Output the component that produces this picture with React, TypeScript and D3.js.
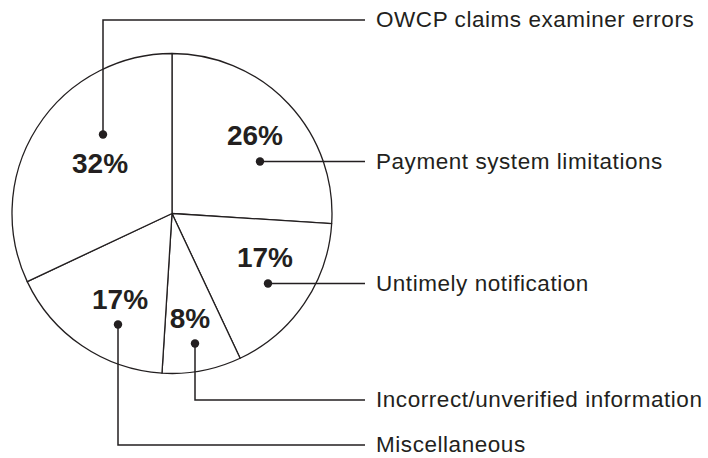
import React from 'react';
import * as d3 from 'd3';

// slices, clockwise from 12 o'clock
const categories = [
  'Payment system limitations',
  'Untimely notification',
  'Incorrect/unverified information',
  'Miscellaneous',
  'OWCP claims examiner errors',
];
const shares = [26, 17, 8, 17, 32];
const pctLabels = ['26%', '17%', '8%', '17%', '32%'];

// annotation placement (relative to pie centre): percent text, dot, and leader elbow
const annot = [
  { tx: 83, ty: -69, dx: 88, dy: -52, elbowY: null },
  { tx: 93, ty: 53, dx: 96, dy: 70, elbowY: null },
  { tx: 18, ty: 114, dx: 23, dy: 130, elbowY: 400 },
  { tx: -52, ty: 95, dx: -54, dy: 111, elbowY: 445 },
  { tx: -72, ty: -41, dx: -69, dy: -79, elbowY: 20 },
];

const W = 708;
const H = 458;
const cx = 172;
const cy = 213.5;
const R = 160;
const lineEnd = 365;
const textX = 376;
const ink = '#231f20';

export default function App() {
  const pie = d3.pie<number>().sort(null).startAngle(0).endAngle(2 * Math.PI);
  const arcs = pie(shares);
  const arc = d3.arc<d3.PieArcDatum<number>>().innerRadius(0).outerRadius(R);

  return (
    <svg width={W} height={H} style={{ position: 'absolute', left: 0, top: 0, background: '#fff' }}
      fontFamily="'Liberation Sans', Arial, Helvetica, sans-serif">
      <g transform={`translate(${cx},${cy})`}>
        {arcs.map((a, i) => (
          <path key={i} d={arc(a) || ''} fill="#fff" stroke={ink} strokeWidth={1.3} strokeLinejoin="round" />
        ))}
        {arcs.map((a, i) => {
          const p = annot[i];
          return (
            <text key={`t${i}`} x={p.tx} y={p.ty} textAnchor="middle" fontSize={28} fontWeight="bold" fill={ink}>
              {pctLabels[i]}
            </text>
          );
        })}
      </g>

      {/* leaders */}
      {categories.map((c, i) => {
        const p = annot[i];
        const x0 = cx + p.dx;
        const y0 = cy + p.dy;
        const pts: [number, number][] = p.elbowY == null
          ? [[x0, y0], [lineEnd, y0]]
          : [[x0, y0], [x0, p.elbowY], [lineEnd, p.elbowY]];
        const ly = p.elbowY == null ? y0 : p.elbowY;
        return (
          <g key={`l${i}`}>
            <path d={d3.line()(pts) || ''} fill="none" stroke={ink} strokeWidth={1.5} />
            <circle cx={x0} cy={y0} r={4.2} fill={ink} />
            <text x={textX} y={ly} dy="0.32em" fontSize={22.5} letterSpacing={0.55} fill={ink}>{c}</text>
          </g>
        );
      })}
    </svg>
  );
}
